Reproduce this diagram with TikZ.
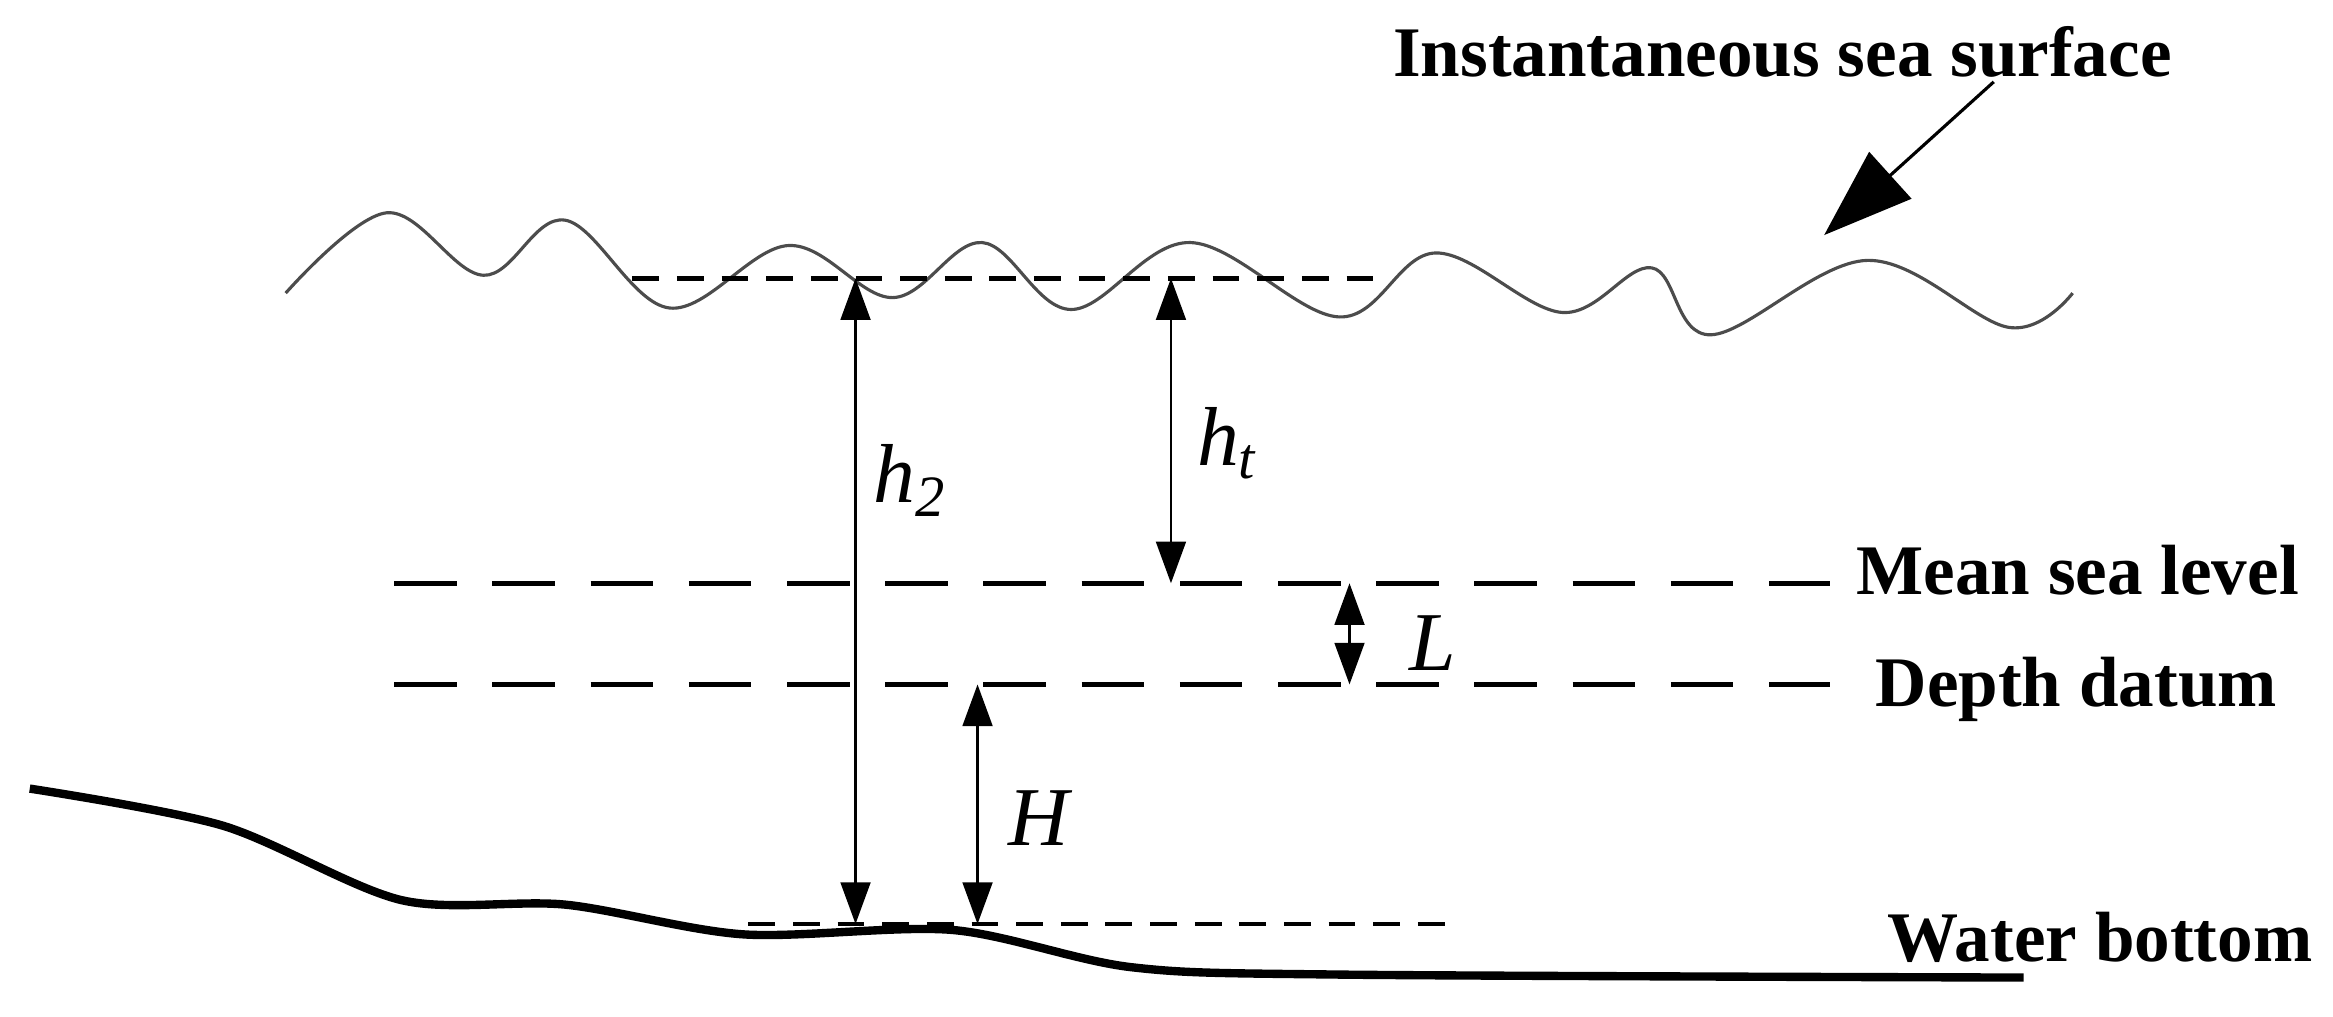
\documentclass[tikz,border=0pt]{standalone}
\usepackage{fontspec}
\setmainfont{Liberation Serif}
\usetikzlibrary{arrows.meta}
\begin{document}
\begin{tikzpicture}[x=0.1mm,y=-0.1mm,
  lab/.style={font=\bfseries\fontsize{13.6}{15}\selectfont,anchor=west,inner sep=0pt},
  sym/.style={font=\itshape\fontsize{16}{18}\selectfont,inner sep=0pt},
  dim/.style={{Triangle[length=2.8mm,width=2mm]}-{Triangle[length=2.8mm,width=2mm]},line width=0.5pt},
  dl/.style={dash pattern=on 4.2mm off 2.4mm,line width=0.9pt},
  ds/.style={dash pattern=on 1.8mm off 1.2mm,line width=0.9pt}]
\useasboundingbox (0,0) rectangle (1568,683);
% sea surface
\draw[line width=0.6pt,gray!60!black] plot[smooth,tension=0.6] coordinates{(192,197)(260,143)(325,185)(380,148)(450,207)(530,165)(600,200)(660,163)(720,208)(800,163)(900,213)(965,170)(1050,210)(1110,180)(1150,225)(1255,175)(1350,220)(1393,197)};
% bottom
\draw[line width=1.6pt] plot[smooth,tension=0.5] coordinates{(20,530)(150,555)(270,605)(380,608)(500,628)(640,625)(760,650)(900,655)(1360,657)};
% levels
\coordinate (s1) at (425,187); \coordinate (s2) at (925,187);
\draw[ds] (s1) -- (s2);
\coordinate (m1) at (265,392); \coordinate (m2) at (1230,392);
\draw[dl] (m1) -- (m2);
\coordinate (d1) at (265,460); \coordinate (d2) at (1230,460);
\draw[dl] (d1) -- (d2);
\coordinate (b1) at (503,621); \coordinate (b2) at (972,621);
\draw[ds] (b1) -- (b2);
% dimensions
\coordinate (h2t) at (575,187); \coordinate (h2b) at (575,621);
\draw[dim] (h2t) -- (h2b);
\node[sym] (h2) at (612,323) {h\textsubscript{2}};
\coordinate (htt) at (787,187); \coordinate (htb) at (787,392);
\draw[dim] (htt) -- (htb);
\node[sym] (ht) at (825,298) {h\textsubscript{t}};
\coordinate (Lt) at (907,392); \coordinate (Lb) at (907,460);
\draw[dim] (Lt) -- (Lb);
\node[sym] (L) at (963,432) {L};
\coordinate (Ht) at (657,460); \coordinate (Hb) at (657,621);
\draw[dim] (Ht) -- (Hb);
\node[sym] (H) at (698,550) {H};
% labels
\node[lab] (ml) at (1247,383) {Mean sea level};
\node[lab] (dd) at (1260,463) {Depth datum};
\node[lab] (wb) at (1268,630) {Water bottom};
\node[lab,anchor=center] (iss) at (1198,35) {Instantaneous sea surface};
\coordinate (ia) at (1340,55); \coordinate (ib) at (1226,158);
\draw[-{Triangle[length=6mm,width=4.2mm]},line width=0.6pt] (ia) -- (ib);
\end{tikzpicture}
\end{document}
